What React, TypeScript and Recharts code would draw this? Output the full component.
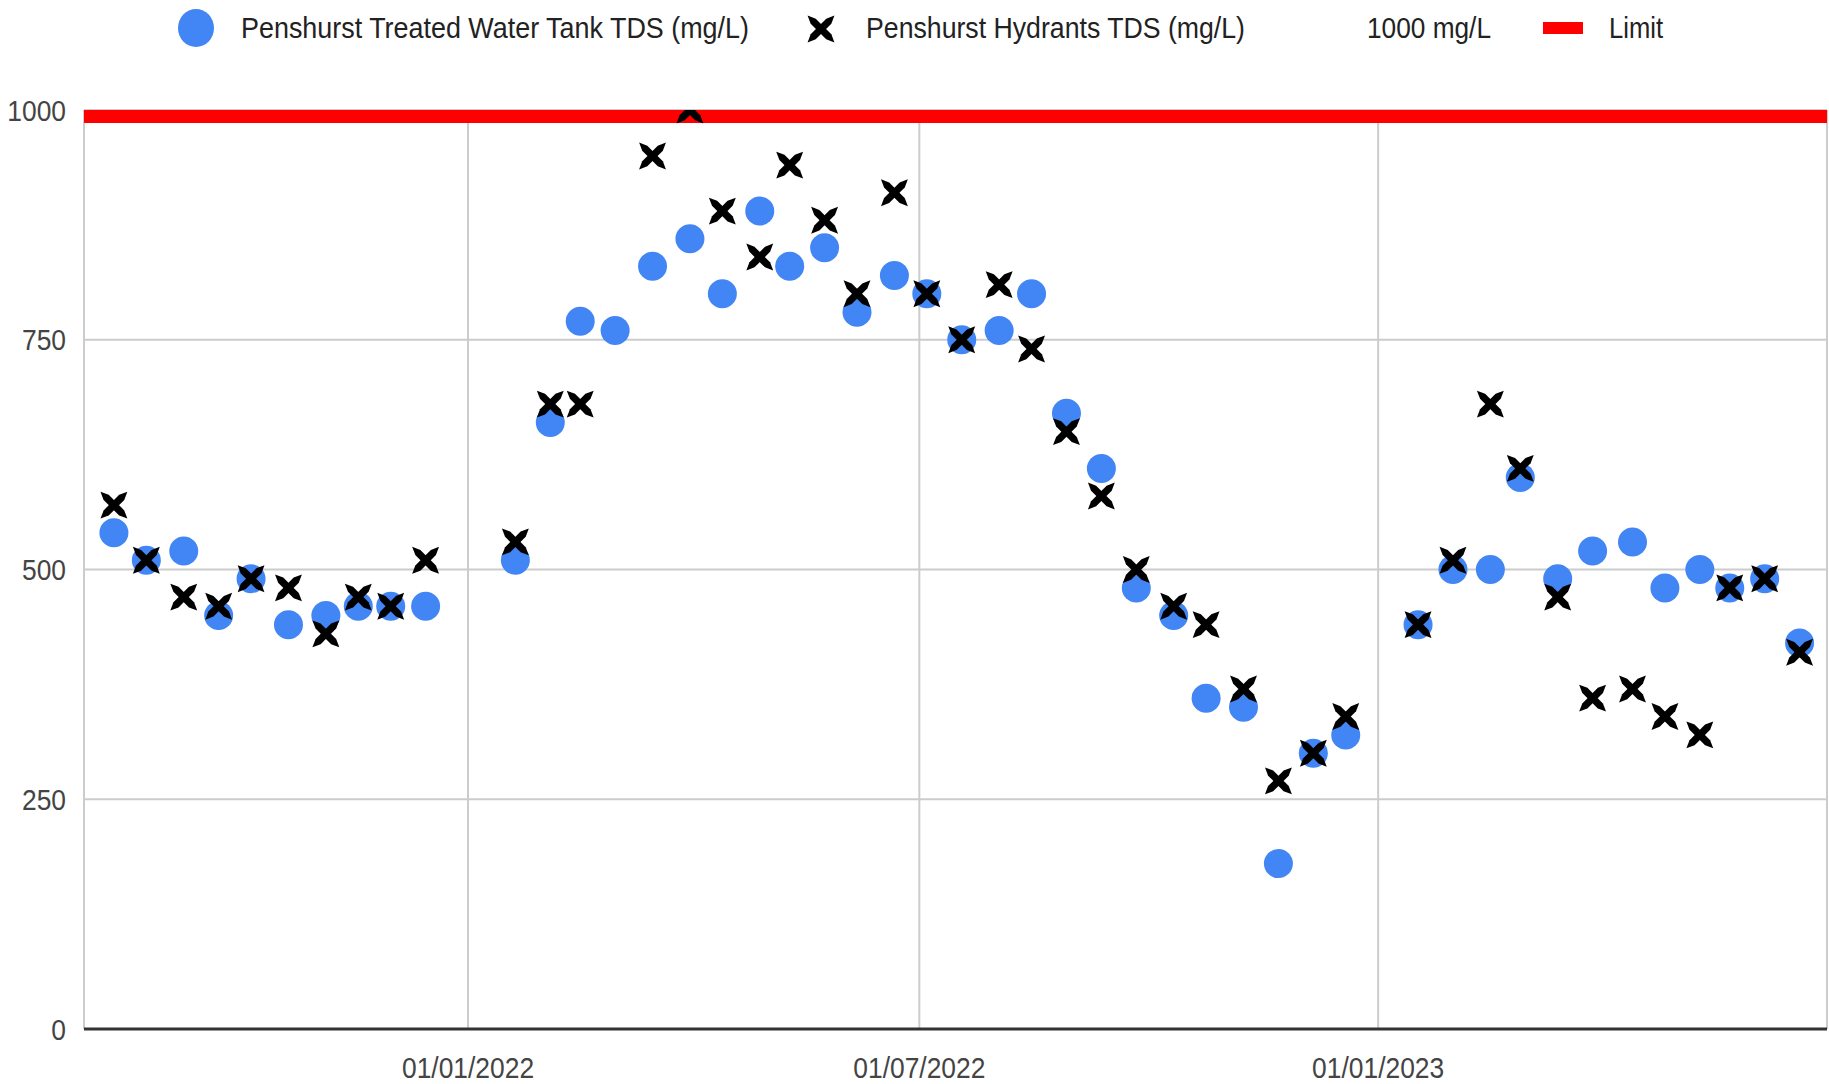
import { ScatterChart, Scatter, XAxis, YAxis, CartesianGrid, ReferenceLine } from 'recharts'

// sample dates (roughly fortnightly)
const SAMPLE_DATES = [
  '2021-08-12', '2021-08-25', '2021-09-09', '2021-09-23', '2021-10-06', '2021-10-21',
  '2021-11-05', '2021-11-18', '2021-12-01', '2021-12-15', '2022-01-20', '2022-02-03',
  '2022-02-15', '2022-03-01', '2022-03-16', '2022-03-31', '2022-04-13', '2022-04-28',
  '2022-05-10', '2022-05-24', '2022-06-06', '2022-06-21', '2022-07-04', '2022-07-18',
  '2022-08-02', '2022-08-15', '2022-08-29', '2022-09-12', '2022-09-26', '2022-10-11',
  '2022-10-24', '2022-11-08', '2022-11-22', '2022-12-06', '2022-12-19', '2023-01-17',
  '2023-01-31', '2023-02-15', '2023-02-27', '2023-03-14', '2023-03-28', '2023-04-13',
  '2023-04-26', '2023-05-10', '2023-05-22', '2023-06-05', '2023-06-19',
]

const TANK_TDS = [
  540, 510, 520, 450, 490, 440, 450, 460, 460, 460, 510, 660,
  770, 760, 830, 860, 800, 890, 830, 850, 780, 820, 800, 750,
  760, 800, 670, 610, 480, 450, 360, 350, 180, 300, 320, 440,
  500, 500, 600, 490, 520, 530, 480, 500, 480, 490, 420,
]

const HYDRANT_TDS: (number | null)[] = [
  570, 510, 470, 460, 490, 480, 430, 470, 460, 510, 530, 680,
  680, null, 950, 1000, 890, 840, 940, 880, 800, 910, 800, 750,
  810, 740, 650, 580, 500, 460, 440, 370, 270, 300, 340, 440,
  510, 680, 610, 470, 360, 370, 340, 320, 480, 490, 410,
]

const LIMIT = 1000
const X_DOMAIN = ['2021-07-31', '2023-06-30']
// last tick is the right border of the plot, it gets a gridline but no label
const X_TICKS = ['2022-01-01', '2022-07-01', '2023-01-01', '2023-06-30']
const X_LABELS = ['01/01/2022', '01/07/2022', '01/01/2023', '']
const Y_TICKS = [0, 250, 500, 750, 1000]

const SERIES_NAMES = ['Penshurst Treated Water Tank TDS (mg/L)', 'Penshurst Hydrants TDS (mg/L)', '1000 mg/L', 'Limit']

const FONT = '"Liberation Sans", Arial, sans-serif'
const BLUE = '#4285f4'

const toMs = (s: string) => Date.parse(s + 'T00:00:00Z')

const tankData = SAMPLE_DATES.map((d, i) => ({ date: toMs(d), value: TANK_TDS[i] }))
const hydrantData = SAMPLE_DATES.map((d, i) => ({ date: toMs(d), value: HYDRANT_TDS[i] })).filter(
  (p) => p.value !== null
)

// one arm of the cross: a bar with pointed ends, centred on 0,0
const ARM = 'M-19,0 L-11,-3.6 L11,-3.6 L19,0 L11,3.6 L-11,3.6 Z'

function CrossMark({ cx, cy }: { cx: number; cy: number }) {
  return (
    <g transform={`translate(${cx},${cy})`}>
      <path d={ARM} transform="rotate(45)" fill="#000" />
      <path d={ARM} transform="rotate(-45)" fill="#000" />
    </g>
  )
}

const Cross = (props: any) => <CrossMark cx={props.cx} cy={props.cy} />
const Dot = (props: any) => <circle cx={props.cx} cy={props.cy} r={14.5} fill={BLUE} />

const YTick = ({ y, payload }: any) => (
  <text
    x={0}
    y={0}
    transform={`translate(66,${y}) scale(0.88,1)`}
    textAnchor="end"
    dominantBaseline="central"
    fontSize={30}
    fontFamily={FONT}
    fill="#444"
  >
    {payload.value}
  </text>
)

const XTick = ({ x, payload }: any) => {
  const idx = X_TICKS.findIndex((t) => toMs(t) === payload.value)
  const label = X_LABELS[idx] || ''
  if (!label) return null
  return (
    <text
      x={0}
      y={0}
      transform={`translate(${x},1078) scale(0.88,1)`}
      textAnchor="middle"
      fontSize={30}
      fontFamily={FONT}
      fill="#444"
    >
      {label}
    </text>
  )
}

function LegendBar() {
  const textProps = {
    fontSize: 29,
    fontFamily: FONT,
    fill: '#222',
    lengthAdjust: 'spacingAndGlyphs' as const,
  }
  return (
    <svg width={1829} height={60} style={{ position: 'absolute', left: 0, top: 0, pointerEvents: 'none' }}>
      <ellipse cx={196} cy={28} rx={18} ry={19} fill={BLUE} />
      <text x={241} y={38} textLength={508} {...textProps}>
        {SERIES_NAMES[0]}
      </text>
      <CrossMark cx={821} cy={29} />
      <text x={866} y={38} textLength={379} {...textProps}>
        {SERIES_NAMES[1]}
      </text>
      <text x={1367} y={38} textLength={124} {...textProps}>
        {SERIES_NAMES[2]}
      </text>
      <rect x={1543} y={22} width={40} height={12} fill="#ff0000" />
      <text x={1609} y={38} textLength={54} {...textProps}>
        {SERIES_NAMES[3]}
      </text>
    </svg>
  )
}

export default function App() {
  return (
    <div style={{ position: 'absolute', left: 0, top: 0, width: 1829, height: 1084, background: '#fff' }}>
      <ScatterChart width={1829} height={1084} margin={{ top: 110, right: 2, bottom: 0, left: 0 }}>
        <CartesianGrid stroke="#cccccc" strokeWidth={2} />
        <XAxis
          type="number"
          dataKey="date"
          domain={[toMs(X_DOMAIN[0]), toMs(X_DOMAIN[1])]}
          ticks={X_TICKS.map(toMs)}
          tick={<XTick />}
          height={55}
          axisLine={{ stroke: '#333', strokeWidth: 3 }}
          tickLine={false}
          allowDataOverflow
        />
        <YAxis
          type="number"
          dataKey="value"
          domain={[0, 1000]}
          ticks={Y_TICKS}
          tick={<YTick />}
          width={84}
          axisLine={false}
          tickLine={false}
          allowDataOverflow
        />
        <ReferenceLine y={LIMIT} stroke="#ff0000" strokeWidth={26} ifOverflow="hidden" />
        <Scatter name={SERIES_NAMES[0]} data={tankData} shape={<Dot />} isAnimationActive={false} />
        <Scatter name={SERIES_NAMES[1]} data={hydrantData} shape={<Cross />} isAnimationActive={false} />
      </ScatterChart>
      <LegendBar />
    </div>
  )
}
